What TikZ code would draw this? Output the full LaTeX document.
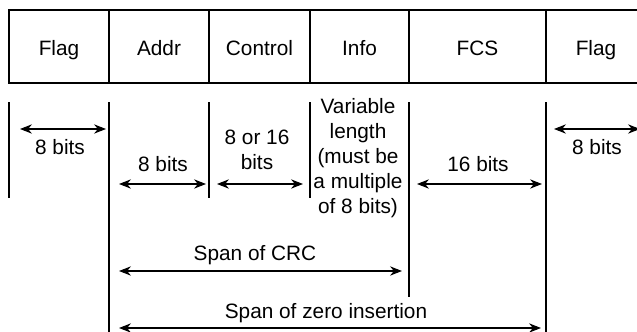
\documentclass[tikz,border=0pt]{standalone}
\usepackage{fontspec}
\setmainfont{Liberation Sans}
\usetikzlibrary{arrows.meta}

\begin{document}
\begin{tikzpicture}[x=0.75pt,y=-0.75pt,
    every node/.style={font=\fontsize{15.6}{18.75}\selectfont},
    field/.style={draw,line width=0.8pt,minimum height=54.75pt,inner sep=0pt,
                  text height=14.2pt,text depth=0pt},
    span/.style={{Stealth[length=9pt,width=7pt,inset=3pt]}-{Stealth[length=9pt,width=7pt,inset=3pt]},line width=0.8pt},
    tick/.style={line width=0.8pt}]
  \useasboundingbox (0,0) rectangle (637,332);
  % frame fields
  \node[field,minimum width=75pt]    (flagA) at (59,46.5)    {Flag};
  \node[field,minimum width=75pt]    (addr)  at (159,46.5)   {Addr};
  \node[field,minimum width=75.75pt] (ctrl)  at (259.5,46.5) {Control};
  \node[field,minimum width=74.25pt] (info)  at (359.5,46.5) {Info};
  \node[field,minimum width=102.75pt](fcs)   at (477.5,46.5) {FCS};
  \node[field,minimum width=75pt]    (flagB) at (596,46.5)   {Flag};
  % field boundaries
  \draw[tick] (9,102)   -- (9,198);
  \draw[tick] (109,102) -- (109,336);
  \draw[tick] (209,102) -- (209,198);
  \draw[tick] (310,102) -- (310,198);
  \draw[tick] (409,102) -- (409,297);
  \draw[tick] (546,102) -- (546,336);
  % arrow ends
  \coordinate (flagAl) at (20,129);   \coordinate (flagAr) at (106,129);
  \coordinate (addrl)  at (119,184);  \coordinate (addrr)  at (206,184);
  \coordinate (ctrll)  at (217,184);  \coordinate (ctrlr)  at (303,184);
  \coordinate (fcsl)   at (417,184);  \coordinate (fcsr)   at (542,184);
  \coordinate (flagBl) at (554,129);  \coordinate (flagBr) at (640,129);
  \coordinate (crcl)   at (119,271);  \coordinate (crcr)   at (402,271);
  \coordinate (zerol)  at (119,328);  \coordinate (zeror)  at (541,328);
  \draw[span] (flagAl) -- (flagAr);
  \draw[span] (addrl)  -- (addrr);
  \draw[span] (ctrll)  -- (ctrlr);
  \draw[span] (fcsl)   -- (fcsr);
  \draw[span] (flagBl) -- (flagBr);
  \draw[span] (crcl)   -- (crcr);
  \draw[span] (zerol)  -- (zeror);
  % lengths
  \node (flagAlen) at (60,147)  {8 bits};
  \node (addrlen)  at (163,164) {8 bits};
  \node[align=center] (ctrllen) at (257,150) {8 or 16\\bits};
  \node[align=center] (infolen) at (358,158) {Variable\\length\\(must be\\a multiple\\of 8 bits)};
  \node (fcslen)   at (478,164) {16 bits};
  \node (flagBlen) at (597,147) {8 bits};
  \node (crcspan)  at (255,255) {Span of CRC};
  \node (zerospan) at (326,313) {Span of zero insertion};
\end{tikzpicture}
\end{document}
